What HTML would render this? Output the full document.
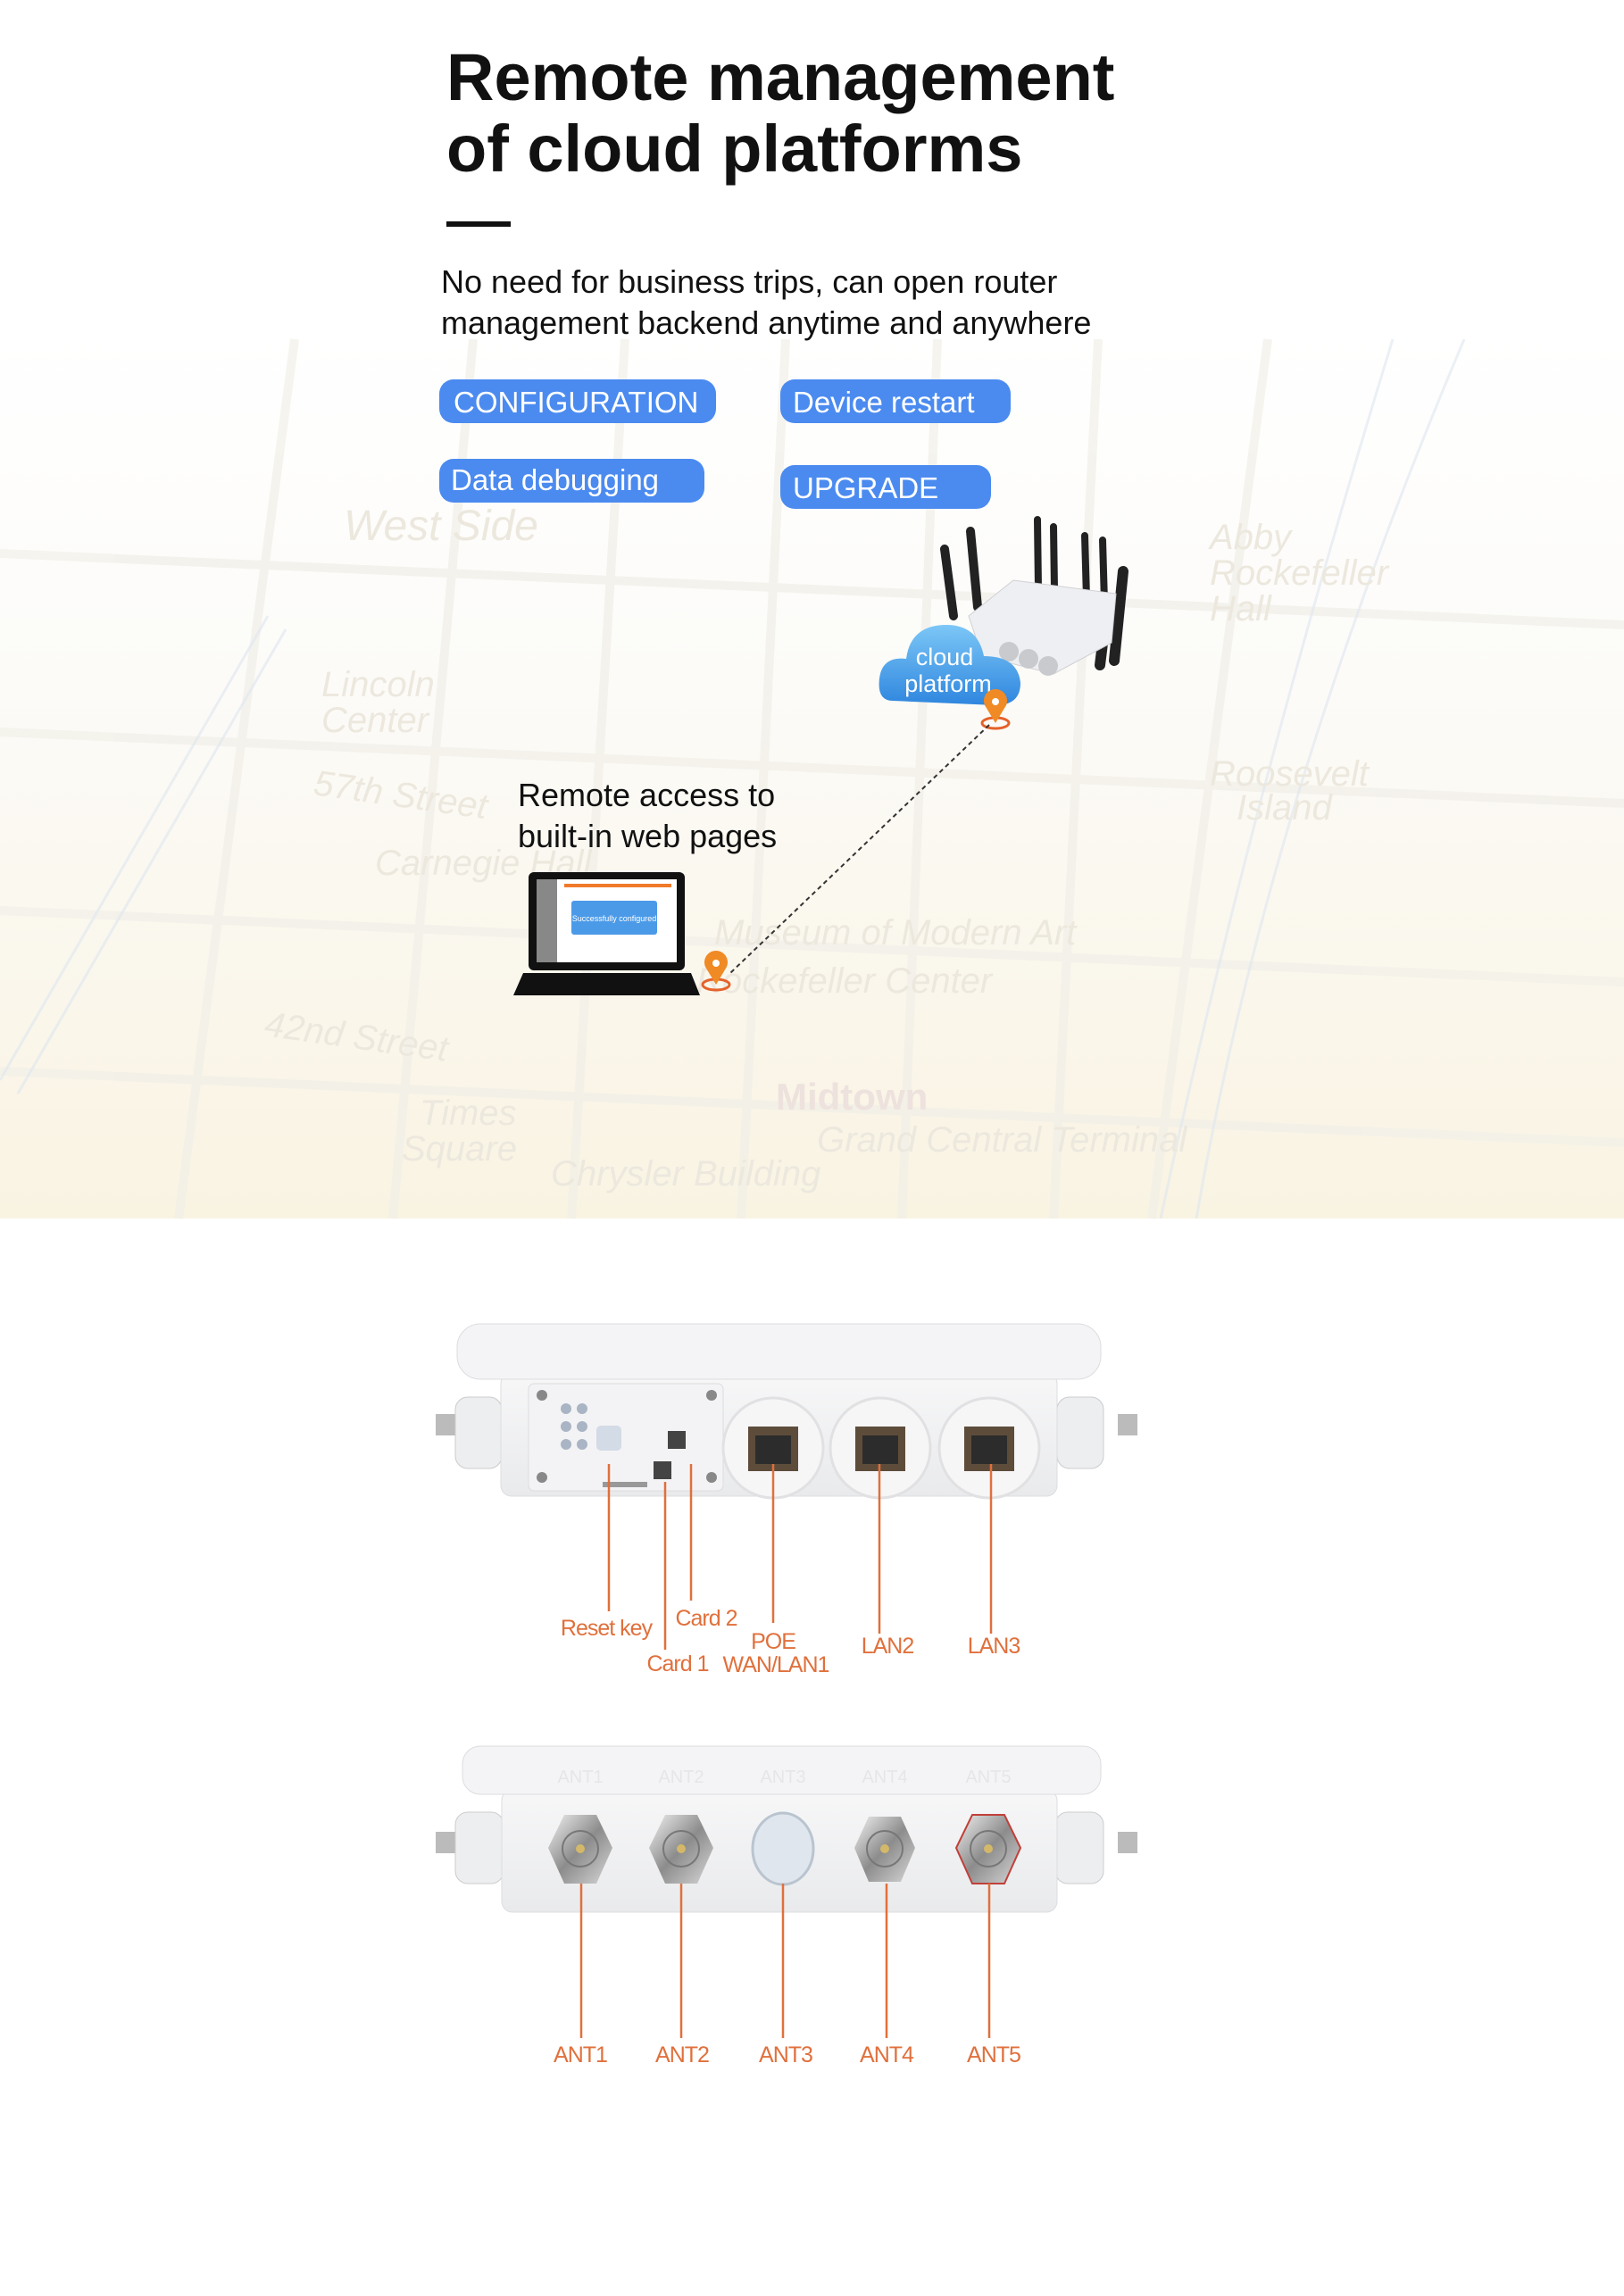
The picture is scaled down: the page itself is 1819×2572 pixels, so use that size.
<!DOCTYPE html>
<html><head><meta charset="utf-8"><style>
html,body{margin:0;padding:0;background:#fff}
body{width:1819px;height:2572px;position:relative;overflow:hidden;font-family:"Liberation Sans",sans-serif}
svg{position:absolute;left:0;top:0}
</style></head><body>
<svg width="1819" height="2572" viewBox="0 0 1819 2572" xmlns="http://www.w3.org/2000/svg" font-family="Liberation Sans, sans-serif">
<defs>
<linearGradient id="map" x1="0" y1="0" x2="0" y2="1">
<stop offset="0" stop-color="#ffffff"/><stop offset="0.4" stop-color="#fcfbf8"/><stop offset="1" stop-color="#f9f3e2"/>
</linearGradient>
<linearGradient id="cl" x1="0" y1="0" x2="0" y2="1"><stop offset="0" stop-color="#7cc7f7"/><stop offset="1" stop-color="#2f86de"/></linearGradient>
<linearGradient id="metal" x1="0" y1="0" x2="1" y2="1"><stop offset="0" stop-color="#f2f2f2"/><stop offset="0.5" stop-color="#8c8c8c"/><stop offset="1" stop-color="#d8d8d8"/></linearGradient>
<linearGradient id="body" x1="0" y1="0" x2="0" y2="1"><stop offset="0" stop-color="#f7f7f8"/><stop offset="1" stop-color="#e9eaec"/></linearGradient>
</defs>
<rect x="0" y="370" width="1819" height="995" fill="url(#map)"/>
<g stroke="#f1efe8" stroke-width="10" fill="none" opacity="0.7">
<path d="M330 380 L200 1365"/><path d="M530 380 L440 1365"/><path d="M700 380 L640 1365"/><path d="M880 380 L830 1365"/>
<path d="M1050 380 L1010 1365"/><path d="M1230 380 L1180 1365"/><path d="M1420 380 L1290 1365"/>
<path d="M0 620 L1819 700"/><path d="M0 820 L1819 900"/><path d="M0 1020 L1819 1100"/><path d="M0 1200 L1819 1280"/>
</g>
<g stroke="#dfe7f0" stroke-width="3" fill="none" opacity="0.6">
<path d="M0 1210 L300 690"/><path d="M20 1225 L320 705"/><path d="M1560 380 Q1400 900 1300 1365"/><path d="M1640 380 Q1420 900 1340 1365"/>
</g>
<g fill="#ece8de" font-style="italic" font-size="40">
<text x="360" y="780">Lincoln</text><text x="360" y="820">Center</text>
<text x="350" y="890" transform="rotate(8 350 890)">57th Street</text>
<text x="420" y="980">Carnegie Hall</text>
<text x="800" y="1058">Museum of Modern Art</text><text x="780" y="1112">Rockefeller Center</text>
<text x="295" y="1160" transform="rotate(8 295 1160)">42nd Street</text>
<text x="470" y="1260">Times</text><text x="450" y="1300">Square</text>
<text x="617" y="1328">Chrysler Building</text><text x="915" y="1290">Grand Central Terminal</text>
<text x="1355" y="880">Roosevelt</text><text x="1385" y="918">Island</text>
<text x="1355" y="615">Abby</text><text x="1355" y="655">Rockefeller</text><text x="1355" y="695">Hall</text>
<text x="385" y="605" font-size="48">West Side</text>
</g>
<text x="869" y="1243" fill="#ede2dd" font-size="42" font-weight="bold">Midtown</text>

<text x="500" y="112" font-size="74" font-weight="bold" fill="#111">Remote management</text>
<text x="500" y="192" font-size="74" font-weight="bold" fill="#111">of cloud platforms</text>
<rect x="500" y="248" width="72" height="6" fill="#111"/>
<text x="494" y="328" font-size="36" fill="#111">No need for business trips, can open router</text>
<text x="494" y="374" font-size="36" fill="#111">management backend anytime and anywhere</text>

<g font-size="33" fill="#fff">
<rect x="492" y="425" width="310" height="49" rx="16" fill="#4b8bf0"/><text x="508" y="462">CONFIGURATION</text>
<rect x="874" y="425" width="258" height="49" rx="16" fill="#4b8bf0"/><text x="888" y="462">Device restart</text>
<rect x="492" y="514" width="297" height="49" rx="16" fill="#4b8bf0"/><text x="505" y="549">Data debugging</text>
<rect x="874" y="521" width="236" height="49" rx="16" fill="#4b8bf0"/><text x="888" y="558">UPGRADE</text>
</g>

<g stroke="#222" stroke-linecap="round">
<line x1="1058" y1="615" x2="1068" y2="690" stroke-width="10"/>
<line x1="1087" y1="595" x2="1095" y2="680" stroke-width="10"/>
<line x1="1162" y1="582" x2="1163" y2="660" stroke-width="8"/>
<line x1="1180" y1="590" x2="1181" y2="660" stroke-width="8"/>
<line x1="1215" y1="600" x2="1217" y2="670" stroke-width="8"/>
<line x1="1235" y1="605" x2="1237" y2="675" stroke-width="8"/>
<line x1="1258" y1="640" x2="1248" y2="740" stroke-width="12"/>
<line x1="1240" y1="680" x2="1232" y2="745" stroke-width="12"/>
</g>
<path d="M1085 690 L1135 650 L1250 665 L1245 720 L1180 755 L1100 735 Z" fill="#eeeff2" stroke="#d0d0d4"/>
<circle cx="1130" cy="730" r="11" fill="#c9cacd"/><circle cx="1152" cy="738" r="11" fill="#c9cacd"/><circle cx="1174" cy="746" r="11" fill="#c9cacd"/>
<path d="M1000 785 Q982 785 985 760 Q988 735 1015 738 Q1020 700 1060 700 Q1095 700 1102 735 Q1140 735 1143 765 Q1143 790 1115 790 Z" fill="url(#cl)"/>
<text x="1058" y="745" font-size="27" fill="#fff" text-anchor="middle">cloud</text>
<text x="1062" y="775" font-size="27" fill="#fff" text-anchor="middle">platform</text>
<g>
<ellipse cx="1115" cy="810" rx="15" ry="6" fill="none" stroke="#e5622a" stroke-width="3"/>
<path d="M1115 810 L1103 790 A13 13 0 1 1 1127 790 Z" fill="#f08a24"/><circle cx="1115" cy="786" r="4" fill="#fff"/>
<ellipse cx="802" cy="1103" rx="15" ry="6" fill="none" stroke="#e5622a" stroke-width="3"/>
<path d="M802 1103 L790 1083 A13 13 0 1 1 814 1083 Z" fill="#f08a24"/><circle cx="802" cy="1079" r="4" fill="#fff"/>
</g>
<line x1="1108" y1="812" x2="818" y2="1090" stroke="#333" stroke-width="2" stroke-dasharray="5 4"/>
<text x="580" y="903" font-size="36" fill="#111">Remote access to</text>
<text x="580" y="949" font-size="36" fill="#111">built-in web pages</text>
<rect x="592" y="977" width="175" height="110" rx="6" fill="#111"/>
<rect x="601" y="985" width="157" height="93" fill="#fff"/>
<rect x="601" y="985" width="23" height="93" fill="#888"/>
<rect x="632" y="990" width="120" height="4" fill="#f07a2a"/>
<rect x="640" y="1009" width="96" height="38" rx="3" fill="#4b9ae8"/>
<text x="688" y="1032" font-size="9" fill="#fff" text-anchor="middle">Successfully configured</text>
<path d="M586 1090 L774 1090 L784 1115 L575 1115 Z" fill="#111"/>

<rect x="488" y="1584" width="22" height="24" fill="#bbb"/><rect x="1252" y="1584" width="22" height="24" fill="#bbb"/>
<rect x="510" y="1565" width="52" height="80" rx="14" fill="#eceef0" stroke="#ccc"/>
<rect x="1184" y="1565" width="52" height="80" rx="14" fill="#eceef0" stroke="#ccc"/>
<rect x="561" y="1538" width="623" height="138" rx="12" fill="url(#body)" stroke="#dcdde0"/>
<rect x="512" y="1483" width="721" height="62" rx="26" fill="#f4f4f6" stroke="#dcdde0"/>
<rect x="592" y="1550" width="218" height="120" rx="6" fill="#f3f3f5" stroke="#dcdcdf"/>
<g fill="#a9b4c4"><circle cx="634" cy="1578" r="6"/><circle cx="652" cy="1578" r="6"/><circle cx="634" cy="1598" r="6"/><circle cx="652" cy="1598" r="6"/><circle cx="634" cy="1618" r="6"/><circle cx="652" cy="1618" r="6"/></g>
<rect x="668" y="1597" width="28" height="28" rx="5" fill="#d3dbe6"/>
<rect x="748" y="1603" width="20" height="20" fill="#444"/><rect x="732" y="1637" width="20" height="20" fill="#444"/>
<rect x="675" y="1660" width="50" height="6" fill="#999"/>
<g fill="#888"><circle cx="607" cy="1563" r="6"/><circle cx="797" cy="1563" r="6"/><circle cx="607" cy="1655" r="6"/><circle cx="797" cy="1655" r="6"/></g>
<g>
<circle cx="866" cy="1622" r="56" fill="#f6f6f7" stroke="#e1e1e3" stroke-width="3"/><rect x="838" y="1598" width="56" height="50" fill="#5e4c3b"/><rect x="846" y="1608" width="40" height="32" fill="#2c2c2c"/>
<circle cx="986" cy="1622" r="56" fill="#f6f6f7" stroke="#e1e1e3" stroke-width="3"/><rect x="958" y="1598" width="56" height="50" fill="#5e4c3b"/><rect x="966" y="1608" width="40" height="32" fill="#2c2c2c"/>
<circle cx="1108" cy="1622" r="56" fill="#f6f6f7" stroke="#e1e1e3" stroke-width="3"/><rect x="1080" y="1598" width="56" height="50" fill="#5e4c3b"/><rect x="1088" y="1608" width="40" height="32" fill="#2c2c2c"/>
</g>
<g stroke="#e0703c" stroke-width="2.5">
<line x1="682" y1="1640" x2="682" y2="1805"/><line x1="745" y1="1660" x2="745" y2="1848"/><line x1="774" y1="1640" x2="774" y2="1793"/>
<line x1="866" y1="1640" x2="866" y2="1818"/><line x1="985" y1="1640" x2="985" y2="1830"/><line x1="1110" y1="1640" x2="1110" y2="1830"/>
</g>
<g fill="#e0703c" font-size="25" text-anchor="middle" letter-spacing="-1">
<text x="679" y="1832">Reset key</text><text x="791" y="1821">Card 2</text><text x="759" y="1872">Card 1</text>
<text x="866" y="1847">POE</text><text x="869" y="1873">WAN/LAN1</text>
<text x="994" y="1852">LAN2</text><text x="1113" y="1852">LAN3</text>
</g>

<rect x="488" y="2052" width="22" height="24" fill="#bbb"/><rect x="1252" y="2052" width="22" height="24" fill="#bbb"/>
<rect x="510" y="2030" width="54" height="80" rx="14" fill="#eceef0" stroke="#ccc"/>
<rect x="1182" y="2030" width="54" height="80" rx="14" fill="#eceef0" stroke="#ccc"/>
<rect x="562" y="2005" width="622" height="137" rx="12" fill="url(#body)" stroke="#dcdde0"/>
<rect x="518" y="1956" width="715" height="54" rx="20" fill="#f4f4f6" stroke="#dcdde0"/>
<g fill="#e6e6e8" font-size="20" text-anchor="middle"><text x="650" y="1997">ANT1</text><text x="763" y="1997">ANT2</text><text x="877" y="1997">ANT3</text><text x="991" y="1997">ANT4</text><text x="1107" y="1997">ANT5</text></g>
<g>
<polygon points="632,2033 668,2033 686,2070 668,2110 632,2110 614,2070" fill="url(#metal)"/><circle cx="650" cy="2071" r="20" fill="none" stroke="#777" stroke-width="2"/><circle cx="650" cy="2071" r="5" fill="#d4b86a"/>
<polygon points="745,2033 781,2033 799,2070 781,2110 745,2110 727,2070" fill="url(#metal)"/><circle cx="763" cy="2071" r="20" fill="none" stroke="#777" stroke-width="2"/><circle cx="763" cy="2071" r="5" fill="#d4b86a"/>
<ellipse cx="877" cy="2071" rx="34" ry="40" fill="#dfe6ee" stroke="#b9c4cf" stroke-width="3"/>
<polygon points="973,2035 1009,2035 1025,2070 1009,2108 973,2108 957,2070" fill="url(#metal)"/><circle cx="991" cy="2071" r="20" fill="none" stroke="#777" stroke-width="2"/><circle cx="991" cy="2071" r="5" fill="#d4b86a"/>
<polygon points="1089,2033 1125,2033 1143,2070 1125,2110 1089,2110 1071,2070" fill="url(#metal)" stroke="#c0403a" stroke-width="2"/><circle cx="1107" cy="2071" r="20" fill="none" stroke="#777" stroke-width="2"/><circle cx="1107" cy="2071" r="5" fill="#d4b86a"/>
</g>
<g stroke="#e0703c" stroke-width="2.5">
<line x1="651" y1="2110" x2="651" y2="2283"/><line x1="763" y1="2110" x2="763" y2="2283"/><line x1="877" y1="2110" x2="877" y2="2283"/><line x1="993" y1="2110" x2="993" y2="2283"/><line x1="1108" y1="2110" x2="1108" y2="2283"/>
</g>
<g fill="#e0703c" font-size="25" text-anchor="middle" letter-spacing="-1">
<text x="650" y="2310">ANT1</text><text x="764" y="2310">ANT2</text><text x="880" y="2310">ANT3</text><text x="993" y="2310">ANT4</text><text x="1113" y="2310">ANT5</text>
</g>
</svg>
</body></html>
